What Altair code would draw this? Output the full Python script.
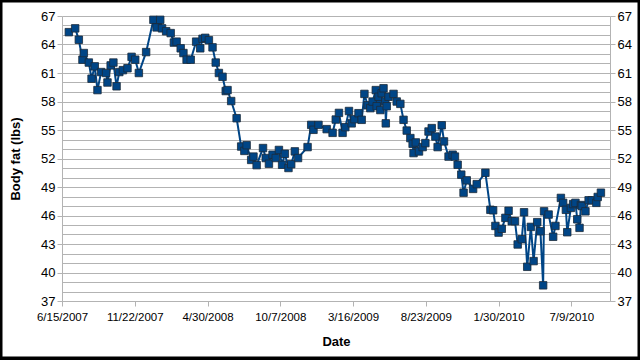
import altair as alt
import pandas as pd

dates = [
    "2007-06-30", "2007-07-14", "2007-07-22", "2007-07-30", "2007-08-02", "2007-08-13",
    "2007-08-19", "2007-08-26", "2007-09-01", "2007-09-09", "2007-09-20", "2007-09-23",
    "2007-09-30", "2007-10-06", "2007-10-13", "2007-10-19", "2007-10-27", "2007-11-06",
    "2007-11-15", "2007-11-23", "2007-12-01", "2007-12-17", "2008-01-02", "2008-01-09",
    "2008-01-17", "2008-01-21", "2008-01-30", "2008-02-09", "2008-02-16", "2008-02-22",
    "2008-03-02", "2008-03-08", "2008-03-15", "2008-03-24", "2008-04-05", "2008-04-14",
    "2008-04-19", "2008-04-25", "2008-05-03", "2008-05-11", "2008-05-18", "2008-05-25",
    "2008-06-02", "2008-06-09", "2008-06-13", "2008-06-21", "2008-07-03", "2008-07-13",
    "2008-07-20", "2008-07-25", "2008-08-04", "2008-08-09", "2008-08-16", "2008-08-30",
    "2008-09-05", "2008-09-12", "2008-09-20", "2008-09-27", "2008-10-04", "2008-10-11",
    "2008-10-17", "2008-10-25", "2008-10-31", "2008-11-08", "2008-11-15", "2008-12-06",
    "2008-12-14", "2008-12-19", "2008-12-30", "2009-01-17", "2009-01-30", "2009-02-06",
    "2009-02-13", "2009-02-21", "2009-02-27", "2009-03-07", "2009-03-13", "2009-03-19",
    "2009-03-28", "2009-04-04", "2009-04-10", "2009-04-17", "2009-04-23", "2009-04-28",
    "2009-05-05", "2009-05-07", "2009-05-11", "2009-05-15", "2009-05-18", "2009-05-22",
    "2009-05-26", "2009-05-27", "2009-05-29", "2009-06-02", "2009-06-13", "2009-06-20",
    "2009-06-28", "2009-07-05", "2009-07-12", "2009-07-20", "2009-07-25", "2009-07-27",
    "2009-08-01", "2009-08-08", "2009-08-16", "2009-08-22", "2009-08-29", "2009-09-05",
    "2009-09-13", "2009-09-18", "2009-09-27", "2009-10-02", "2009-10-12", "2009-10-21",
    "2009-10-26", "2009-11-01", "2009-11-09", "2009-11-14", "2009-11-21", "2009-12-05",
    "2009-12-13", "2010-01-01", "2010-01-12", "2010-01-18", "2010-01-23", "2010-01-30",
    "2010-02-06", "2010-02-14", "2010-02-21", "2010-02-28", "2010-03-07", "2010-03-13",
    "2010-03-22", "2010-03-27", "2010-04-03", "2010-04-11", "2010-04-17", "2010-04-25",
    "2010-05-02", "2010-05-08", "2010-05-10", "2010-05-20", "2010-05-30", "2010-06-04",
    "2010-06-16", "2010-06-21", "2010-06-27", "2010-06-30", "2010-07-08", "2010-07-13",
    "2010-07-18", "2010-07-22", "2010-07-27", "2010-07-30", "2010-08-01", "2010-08-09",
    "2010-08-16", "2010-08-23", "2010-09-02", "2010-09-05", "2010-09-12",
]

body_fat = [
    65.3, 65.7, 64.5, 62.4, 63.1, 62.1,
    60.4, 61.7, 59.2, 61.1, 61.0, 60.0,
    61.8, 62.1, 59.6, 61.1, 61.3, 61.5,
    62.7, 62.4, 61.0, 63.2, 66.6, 65.8,
    66.6, 65.7, 65.4, 65.2, 64.2, 64.3,
    63.6, 63.1, 62.4, 62.4, 64.3, 63.6,
    64.6, 64.7, 64.45, 63.7, 62.1, 61.0,
    60.6, 59.1, 59.2, 58.05, 56.24, 53.26,
    52.8, 53.4, 51.85, 52.2, 51.3, 53.1,
    52.05, 51.45, 52.4, 52.05, 52.9, 51.34,
    52.5, 51.0, 51.4, 52.75, 52.05, 53.2,
    55.54, 55.02, 55.54, 55.09, 54.7, 56.1,
    56.8, 54.7, 55.3, 57.0, 55.7, 56.14,
    56.77, 56.07, 58.8, 57.6, 57.3, 57.99,
    59.2, 57.5, 58.5, 57.1, 58.87, 59.39,
    58.0, 55.7, 57.5, 58.5, 58.8, 58.0,
    57.75, 56.07, 54.94, 54.15, 53.55, 52.57,
    53.69, 52.74, 53.2, 53.62, 54.84, 55.2,
    54.31, 53.2, 55.5, 53.8, 52.2, 52.4,
    52.2, 51.34, 50.3, 48.4, 49.7, 48.8,
    49.3, 50.5, 46.6, 46.55, 44.9, 44.2,
    44.6, 45.75, 46.5, 45.4, 45.4, 42.95,
    43.5, 46.34, 40.6, 44.8, 41.2, 45.3,
    44.34, 38.65, 46.44, 46.1, 43.76, 44.9,
    47.85, 47.33, 46.6, 44.24, 46.8, 47.2,
    47.33, 45.6, 44.7, 47.1, 47.0, 46.44,
    47.6, 47.6, 47.33, 47.95, 48.4,
]

x_tick_dates = [(2007, 6, 15), (2007, 11, 22), (2008, 4, 30), (2008, 10, 7),
                (2009, 3, 16), (2009, 8, 23), (2010, 1, 30), (2010, 7, 9)]
x_domain = [(2007, 6, 15), (2010, 10, 2)]
y_labels = list(range(37, 68, 3))
y_grid = list(range(37, 68))

df = pd.DataFrame({"Date": dates, "Body fat": body_fat})

FONT = "Liberation Sans"
BLUE = "#004586"


def dt(t):
    return alt.DateTime(year=t[0], month=t[1], date=t[2], utc=True)


x_enc = alt.X(
    "Date:T",
    scale=alt.Scale(type="utc", domain=[dt(x_domain[0]), dt(x_domain[1])], nice=False),
    axis=alt.Axis(
        values=[dt(t) for t in x_tick_dates],
        labelExpr="utcFormat(datum.value, '%-m/%-d/%Y')",
        grid=False,
        domainColor="#b3b3b3",
        tickColor="#b3b3b3",
        tickSize=5,
        labelFont=FONT,
        labelFontSize=11.5,
        labelColor="black",
        labelPadding=5,
        labelFlush=False,
        labelOverlap=False,
        title="Date",
        titleFont=FONT,
        titleFontSize=13,
        titleFontWeight="bold",
        titleColor="black",
        titlePadding=13,
    ),
)

y_scale = alt.Scale(domain=[37, 67], nice=False, zero=False)

line = alt.Chart(df).mark_line(color=BLUE, strokeWidth=2).encode(
    x=x_enc,
    y=alt.Y(
        "Body fat:Q",
        scale=y_scale,
        axis=alt.Axis(
            orient="left",
            values=y_grid,
            labelExpr="datum.value % 3 == 1 ? datum.label : ''",
            grid=True,
            gridColor="#b3b3b3",
            gridWidth=1,
            domainColor="#b3b3b3",
            tickColor="#b3b3b3",
            tickOpacity={"condition": {"test": "datum.value % 3 == 1", "value": 1}, "value": 0},
            tickSize=5,
            labelFont=FONT,
            labelFontSize=13,
            labelColor="black",
            labelPadding=2,
            title="Body fat (lbs)",
            titleFont=FONT,
            titleFontSize=13,
            titleFontWeight="bold",
            titleColor="black",
            titlePadding=18,
        ),
    ),
)

points = alt.Chart(df).mark_square(
    size=56, color=BLUE, opacity=1, stroke="#1c2b3a", strokeWidth=0.8
).encode(
    x=x_enc,
    y=alt.Y(
        "Body fat:Q",
        scale=y_scale,
        axis=alt.Axis(
            orient="right",
            values=y_labels,
            grid=False,
            domainColor="#b3b3b3",
            tickColor="#b3b3b3",
            tickSize=5,
            labelFont=FONT,
            labelFontSize=13,
            labelColor="black",
            labelPadding=2,
            title=None,
        ),
    ),
)

frame = alt.Chart(pd.DataFrame({"f": [0]})).mark_rect(
    filled=False, stroke="black", strokeWidth=5
).encode(
    x=alt.value(-62), x2=alt.value(578), y=alt.value(-16), y2=alt.value(343)
)

chart = (
    alt.layer(line, points, frame)
    .resolve_scale(y="shared")
    .resolve_axis(y="independent")
    .properties(
        width=548,
        height=285,
        autosize=alt.AutoSizeParams(type="none"),
        padding={"left": 62, "top": 16, "right": 30, "bottom": 59},
        background="white",
    )
    .configure_view(stroke=None)
)

chart.save("out.html", embed_options={"renderer": "svg", "actions": False})
